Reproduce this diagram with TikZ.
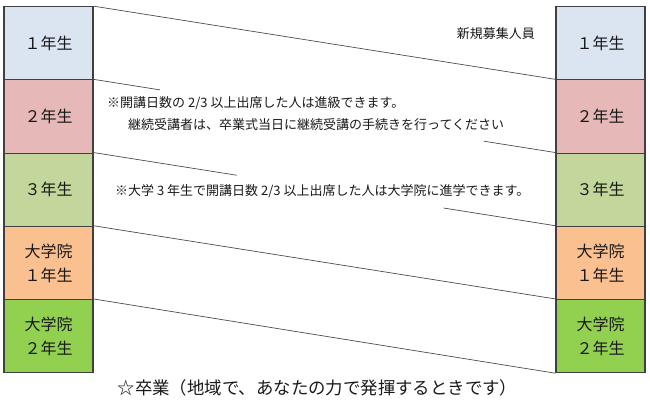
\documentclass[tikz,border=0pt]{standalone}
\usepackage{fontspec}
\setmainfont{Noto Sans CJK JP}
\usetikzlibrary{calc}
\definecolor{nenA}{HTML}{DBE5F1}
\definecolor{nenB}{HTML}{E6B9B8}
\definecolor{nenC}{HTML}{C3D69B}
\definecolor{inA}{HTML}{FAC090}
\definecolor{inB}{HTML}{92D050}

\begin{document}
\begin{tikzpicture}[x=1pt, y=-1pt,
    box/.style={draw=black!75, line width=1.1pt, minimum width=89pt, minimum height=73.2pt,
      inner sep=0pt, align=center, text=black!90, font=\fontsize{16}{24}\selectfont},
    link/.style={draw=black!70, line width=0.7pt},
    note/.style={inner sep=0pt, text=black!90, font=\fontsize{13}{16}\selectfont}]
      \useasboundingbox (0,0) rectangle (650,409);
      % left column
      \node[box, fill=nenA] (l1) at (48.5, 43.3) {１年生};
      \node[box, fill=nenB] (l2) at (48.5, 116.5) {２年生};
      \node[box, fill=nenC] (l3) at (48.5, 189.7) {３年生};
      \node[box, fill=inA] (l4) at (48.5, 262.9) {大学院\\１年生};
      \node[box, fill=inB] (l5) at (48.5, 336.1) {大学院\\２年生};
      % right column
      \node[box, fill=nenA] (r1) at (600.5, 43.3) {１年生};
      \node[box, fill=nenB] (r2) at (600.5, 116.5) {２年生};
      \node[box, fill=nenC] (r3) at (600.5, 189.7) {３年生};
      \node[box, fill=inA] (r4) at (600.5, 262.9) {大学院\\１年生};
      \node[box, fill=inB] (r5) at (600.5, 336.1) {大学院\\２年生};

      \node[note, anchor=east] (new) at (535, 34) {新規募集人員};
      \node[note, anchor=west] (n1) at (107, 103) {※開講日数の 2/3 以上出席した人は進級できます。};
      \node[note, anchor=west] (n2) at (128, 125) {継続受講者は、卒業式当日に継続受講の手続きを行ってください};
      \node[note, anchor=west] (n3) at (115, 191) {※大学 3 年生で開講日数 2/3 以上出席した人は大学院に進学できます。};
      \node[inner sep=0pt, text=black!90, font=\fontsize{17.4}{20}\selectfont] (grad) at (317.5, 388) {☆卒業（地域で、あなたの力で発揮するときです）};

      \coordinate (a2) at ($(l2.north east)!0.144!(r3.north west)$);
      \coordinate (b2) at ($(l2.north east)!0.845!(r3.north west)$);
      \coordinate (a3) at ($(l3.north east)!0.31!(r4.north west)$);
      \coordinate (b3) at ($(l3.north east)!0.758!(r4.north west)$);

      \path [link]
      (l1.north east) edge (r2.north west)
      (l2.north east) edge (a2)
      (b2) edge (r3.north west)
      (l3.north east) edge (a3)
      (b3) edge (r4.north west)
      (l4.north east) edge (r5.north west)
      (l5.north east) edge (r5.south west);
    \end{tikzpicture}
\end{document}
